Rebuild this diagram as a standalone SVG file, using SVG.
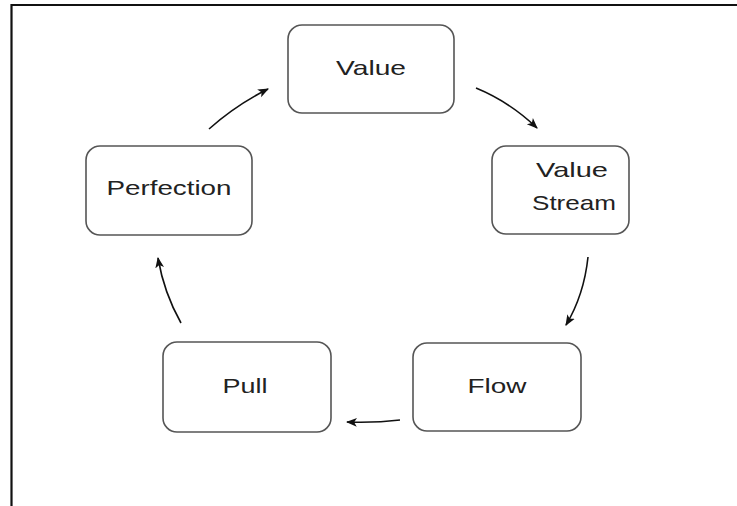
<svg xmlns="http://www.w3.org/2000/svg" width="737" height="506" viewBox="0 0 737 506">
<style>
.box{fill:#fff;stroke:#555;stroke-width:1.6}
.lbl{font-family:"Liberation Sans",Arial,sans-serif;font-size:21px;fill:#222;text-anchor:middle}
.conn{fill:none;stroke:#111;stroke-width:1.6;marker-end:url(#ah)}
</style>
<defs>
<marker id="ah" viewBox="0 0 10 10" refX="9" refY="5" markerWidth="11" markerHeight="11" markerUnits="userSpaceOnUse" orient="auto">
<path d="M0,1 L10,5 L0,9 L2.5,5 Z" fill="#111"/>
</marker>
</defs>
<rect width="737" height="506" fill="#fff"/>
<path d="M11.5,506 V5 H737" fill="none" stroke="#111" stroke-width="2.2"/>
<g id="value">
<rect class="box" x="288" y="25" width="166" height="88" rx="14"/>
<text class="lbl" x="371" y="75" textLength="70" lengthAdjust="spacingAndGlyphs">Value</text>
</g>
<g id="value-stream">
<rect class="box" x="492" y="146" width="137" height="88" rx="14"/>
<text class="lbl" x="572" y="177" textLength="72" lengthAdjust="spacingAndGlyphs">Value</text>
<text class="lbl" x="574" y="210" textLength="84" lengthAdjust="spacingAndGlyphs">Stream</text>
</g>
<g id="flow">
<rect class="box" x="413" y="343" width="168" height="88" rx="14"/>
<text class="lbl" x="497" y="393" textLength="59" lengthAdjust="spacingAndGlyphs">Flow</text>
</g>
<g id="pull">
<rect class="box" x="163" y="342" width="168" height="90" rx="14"/>
<text class="lbl" x="245" y="393" textLength="45" lengthAdjust="spacingAndGlyphs">Pull</text>
</g>
<g id="perfection">
<rect class="box" x="86" y="146" width="166" height="89" rx="14"/>
<text class="lbl" x="169" y="195" textLength="125" lengthAdjust="spacingAndGlyphs">Perfection</text>
</g>
<g id="connectors">
<path class="conn" d="M476,88 Q510,102 537,128"/>
<path class="conn" d="M588,257 Q584,295 566,325"/>
<path class="conn" d="M400,420 Q375,423 347,422"/>
<path class="conn" d="M181,323 Q164,293 158,258"/>
<path class="conn" d="M209,129 Q236,105 268,89"/>
</g>
</svg>
